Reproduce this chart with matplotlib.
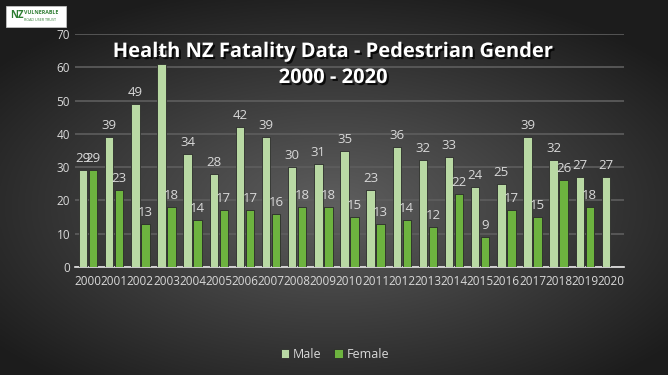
import numpy as np
import matplotlib.pyplot as plt
from matplotlib.patches import Rectangle
import matplotlib.patheffects as pe

plt.rcParams['font.family'] = ['Open Sans', 'DejaVu Sans']

years = [str(y) for y in range(2000, 2021)]
male = [29, 39, 49, 61, 34, 28, 42, 39, 30, 31, 35, 23, 36, 32, 33, 24, 25, 39, 32, 27, 27]
female = [29, 23, 13, 18, 14, 17, 17, 16, 18, 18, 15, 13, 14, 12, 22, 9, 17, 15, 26, 18, np.nan]

male_col = '#b9d9a4'
female_col = '#6db33f'
text_col = '#d9d9d9'

fig = plt.figure(figsize=(6.68, 3.75), dpi=100)

# dark radial background
bg = fig.add_axes([0, 0, 1, 1], zorder=-10)
gx, gy = np.meshgrid(np.linspace(0, 1, 400), np.linspace(0, 1, 240))
d = np.sqrt(((gx - 0.5) / 0.75) ** 2 + ((gy - 0.55) / 0.7) ** 2)
shade = np.clip(0.37 - 0.3 * d, 0.11, 0.37)
bg.imshow(np.dstack([shade] * 3), extent=[0, 1, 0, 1], aspect='auto', origin='upper')
bg.axis('off')

ax = fig.add_axes([75 / 668, 1 - 267 / 375, 549 / 668, 233 / 375])
ax.set_facecolor('none')

x = np.arange(len(years))
w = 0.32
mb = ax.bar(x - 0.19, male, w, color=male_col, edgecolor='#2a2a2a', linewidth=0.6,
            label='Male', zorder=3)
fb = ax.bar(x + 0.19, female, w, color=female_col, edgecolor='#2a2a2a', linewidth=0.6,
            label='Female', zorder=3)

for xi, v in zip(x, male):
    ax.text(xi - 0.19, v + 1.5, str(v), ha='center', va='bottom', color=text_col,
            fontsize=9.5, zorder=4)
for xi, v in zip(x, female):
    if not np.isnan(v):
        ax.text(xi + 0.19, v + 1.5, str(int(v)), ha='center', va='bottom', color=text_col,
                fontsize=9.5, zorder=4)

ax.set_xlim(-0.5, len(years) - 0.5)
ax.set_ylim(0, 70)
ax.set_yticks(range(0, 71, 10))
ax.set_xticks(x)
ax.set_xticklabels(years)
ax.tick_params(length=0, colors=text_col, labelsize=8.5)
ax.tick_params(axis='x', pad=6)
ax.yaxis.grid(True, color='#5e5e5e', linewidth=1.2, zorder=0)
ax.set_axisbelow(True)
for s in ['top', 'right', 'left']:
    ax.spines[s].set_visible(False)
ax.spines['bottom'].set_color('#e8e8e8')
ax.spines['bottom'].set_linewidth(1.2)

shadow = [pe.withSimplePatchShadow(offset=(1.5, -1.5), shadow_rgbFace='black', alpha=0.8)]
fig.text(333 / 668, 1 - 52 / 375, 'Health NZ Fatality Data - Pedestrian Gender',
         ha='center', va='center', color='white', fontsize=14.5, fontweight='bold',
         path_effects=shadow)
fig.text(333 / 668, 1 - 78 / 375, '2000 - 2020', ha='center', va='center',
         color='white', fontsize=14.5, fontweight='bold', path_effects=shadow)

leg = fig.legend(handles=[mb, fb], labels=['Male', 'Female'], loc='center',
                 bbox_to_anchor=(335 / 668, 1 - 354 / 375), ncol=2, frameon=False,
                 fontsize=9, handlelength=0.7, handleheight=0.7, handletextpad=0.3,
                 columnspacing=1.0)
for t in leg.get_texts():
    t.set_color(text_col)

# logo box
fig.patches.append(Rectangle((6 / 668, 1 - 27 / 375), 60 / 668, 21 / 375,
                             transform=fig.transFigure, facecolor='white',
                             edgecolor='#cccccc', linewidth=0.5))
fig.text(10 / 668, 1 - 16 / 375, 'NZ', color='#2e7d32', fontsize=7, fontweight='bold',
         va='center')
fig.text(24 / 668, 1 - 13 / 375, 'VULNERABLE', color='#2e7d32', fontsize=3.8,
         fontweight='bold', va='center')
fig.text(24 / 668, 1 - 20 / 375, 'ROAD USER TRUST', color='#2e7d32', fontsize=2.6,
         va='center')

fig.savefig('out.png', dpi=100)
